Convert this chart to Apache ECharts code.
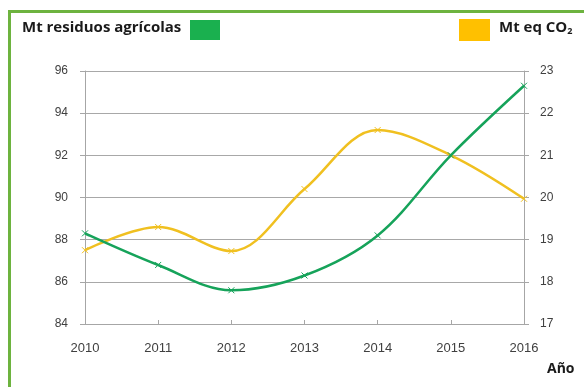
<!DOCTYPE html>
<html>
<head>
<meta charset="utf-8">
<script src="https://cdn.jsdelivr.net/npm/echarts@6/dist/echarts.min.js"></script>
<style>
  html, body { margin: 0; padding: 0; background: #fff; }
  #chart { width: 584px; height: 387px; }
</style>
</head>
<body>
<div id="chart"></div>
<script>
// Years on the horizontal axis
const years = ['2010', '2011', '2012', '2013', '2014', '2015', '2016'];
// Agricultural residues, million tonnes (left axis)
const residuos = [88.3, 86.8, 85.6, 86.3, 88.2, 92.0, 95.3];
// Emissions, Mt CO2 equivalent (right axis)
const co2 = [18.75, 19.3, 18.73, 20.2, 21.6, 21.0, 19.97];

const greenLine = '#16a35a';
const yellowLine = '#f0c020';
const crossMark = 'path://M0,0L10,10M10,0L0,10';
const font = 'Liberation Sans, Arial, sans-serif';
const legendFont = '"Open Sans", Arial, sans-serif';

const chart = echarts.init(document.getElementById('chart'), null, { renderer: 'canvas' });

const axisCommon = {
  axisLine: { show: true, lineStyle: { color: '#a6a6a6', width: 1 } },
  axisTick: { show: true, length: 5, lineStyle: { color: '#a6a6a6' } },
  axisLabel: { color: '#404040', fontSize: 12, fontFamily: font },
};

chart.setOption({
  animation: false,
  backgroundColor: '#fff',
  grid: { left: 85, right: 60, top: 71, bottom: 63 },
  xAxis: {
    type: 'category',
    data: years,
    boundaryGap: false,
    ...axisCommon,
    axisTick: { show: true, length: 4, inside: true, lineStyle: { color: '#a6a6a6' } },
    axisLabel: { ...axisCommon.axisLabel, fontSize: 13, margin: 18 },
    splitLine: { show: false },
  },
  yAxis: [
    {
      type: 'value', min: 84, max: 96, interval: 2, position: 'left',
      ...axisCommon,
      axisLabel: { ...axisCommon.axisLabel, margin: 17 },
      splitLine: { show: true, lineStyle: { color: '#a8a8a8', width: 1 } },
    },
    {
      type: 'value', min: 17, max: 23, interval: 1, position: 'right',
      ...axisCommon,
      axisLabel: { ...axisCommon.axisLabel, margin: 16 },
      splitLine: { show: false },
    },
  ],
  series: [
    {
      name: 'Mt residuos agrícolas',
      type: 'line', yAxisIndex: 0, data: residuos, smooth: 0.35,
      symbol: crossMark, symbolSize: 6,
      lineStyle: { color: greenLine, width: 2.5 },
      itemStyle: { color: greenLine, borderColor: greenLine, borderWidth: 1 },
      z: 3,
    },
    {
      name: 'Mt eq CO2',
      type: 'line', yAxisIndex: 1, data: co2, smooth: 0.35,
      symbol: crossMark, symbolSize: 6,
      lineStyle: { color: yellowLine, width: 2.5 },
      itemStyle: { color: yellowLine, borderColor: yellowLine, borderWidth: 1 },
      z: 2,
    },
  ],
  graphic: [
    // outer frame
    {
      type: 'rect', silent: true, z: 10,
      shape: { x: 9.5, y: 11.5, width: 600, height: 400 },
      style: { fill: 'none', stroke: '#6db33f', lineWidth: 3 },
    },
    // left legend
    {
      type: 'text', left: 22, top: 20,
      style: { text: 'Mt residuos agrícolas', font: 'bold 15px ' + legendFont, fill: '#1a1a1a' },
    },
    {
      type: 'rect', shape: { x: 190, y: 20, width: 30, height: 20 },
      style: { fill: '#1ab04f' },
    },
    // right legend
    {
      type: 'rect', shape: { x: 459, y: 19, width: 31, height: 22 },
      style: { fill: '#ffc000' },
    },
    {
      type: 'text', left: 499, top: 20,
      style: {
        text: 'Mt eq CO{sub|2}',
        font: 'bold 15px ' + legendFont, fill: '#1a1a1a',
        rich: { sub: { font: 'bold 9px ' + legendFont, fill: '#1a1a1a', verticalAlign: 'bottom', padding: [8, 0, 0, 0] } },
      },
    },
    // x axis title
    {
      type: 'text', left: 547, top: 362,
      style: { text: 'Año', font: 'bold 14px ' + legendFont, fill: '#1a1a1a' },
    },
  ],
});
</script>
</body>
</html>
